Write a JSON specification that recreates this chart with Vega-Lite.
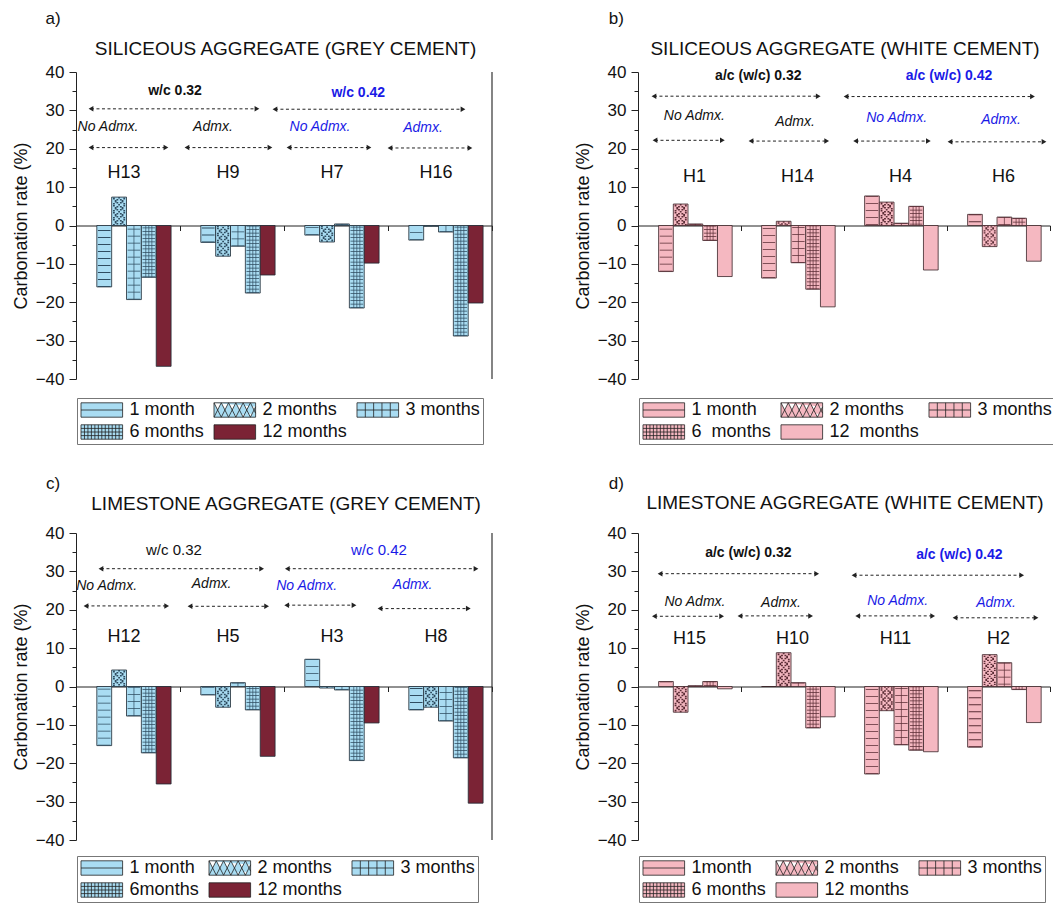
{
"$schema":"https://vega.github.io/schema/vega-lite/v6.json",
"padding":{"left":12,"top":10,"right":0,"bottom":0},
"background":"white",
"config":{"view":{"stroke":null},"font":"Liberation Sans","axisXQuantitative":{"disable":true}},
"datasets":{
"a":[
{"group":"H13","month":"1 month","value":-16.0},{"group":"H13","month":"2 months","value":7.4},{"group":"H13","month":"3 months","value":-19.3},{"group":"H13","month":"6 months","value":-13.5},{"group":"H13","month":"12 months","value":-36.7},
{"group":"H9","month":"1 month","value":-4.4},{"group":"H9","month":"2 months","value":-8.0},{"group":"H9","month":"3 months","value":-5.4},{"group":"H9","month":"6 months","value":-17.6},{"group":"H9","month":"12 months","value":-12.9},
{"group":"H7","month":"1 month","value":-2.5},{"group":"H7","month":"2 months","value":-4.3},{"group":"H7","month":"3 months","value":0.4},{"group":"H7","month":"6 months","value":-21.5},{"group":"H7","month":"12 months","value":-9.8},
{"group":"H16","month":"1 month","value":-3.8},{"group":"H16","month":"2 months","value":-0.2},{"group":"H16","month":"3 months","value":-1.7},{"group":"H16","month":"6 months","value":-28.8},{"group":"H16","month":"12 months","value":-20.2}],
"b":[
{"group":"H1","month":"1 month","value":-12.0},{"group":"H1","month":"2 months","value":5.6},{"group":"H1","month":"3 months","value":0.4},{"group":"H1","month":"6 months","value":-3.9},{"group":"H1","month":"12 months","value":-13.3},
{"group":"H14","month":"1 month","value":-13.7},{"group":"H14","month":"2 months","value":1.1},{"group":"H14","month":"3 months","value":-9.7},{"group":"H14","month":"6 months","value":-16.6},{"group":"H14","month":"12 months","value":-21.2},
{"group":"H4","month":"1 month","value":7.7},{"group":"H4","month":"2 months","value":6.1},{"group":"H4","month":"3 months","value":0.6},{"group":"H4","month":"6 months","value":5.0},{"group":"H4","month":"12 months","value":-11.6},
{"group":"H6","month":"1 month","value":2.9},{"group":"H6","month":"2 months","value":-5.5},{"group":"H6","month":"3 months","value":2.2},{"group":"H6","month":"6 months","value":1.9},{"group":"H6","month":"12 months","value":-9.3}],
"c":[
{"group":"H12","month":"1 month","value":-15.4},{"group":"H12","month":"2 months","value":4.3},{"group":"H12","month":"3 months","value":-7.7},{"group":"H12","month":"6 months","value":-17.3},{"group":"H12","month":"12 months","value":-25.4},
{"group":"H5","month":"1 month","value":-2.2},{"group":"H5","month":"2 months","value":-5.4},{"group":"H5","month":"3 months","value":1.0},{"group":"H5","month":"6 months","value":-6.1},{"group":"H5","month":"12 months","value":-18.2},
{"group":"H3","month":"1 month","value":7.1},{"group":"H3","month":"2 months","value":-0.4},{"group":"H3","month":"3 months","value":-0.9},{"group":"H3","month":"6 months","value":-19.3},{"group":"H3","month":"12 months","value":-9.5},
{"group":"H8","month":"1 month","value":-6.1},{"group":"H8","month":"2 months","value":-5.4},{"group":"H8","month":"3 months","value":-9.0},{"group":"H8","month":"6 months","value":-18.6},{"group":"H8","month":"12 months","value":-30.4}],
"d":[
{"group":"H15","month":"1 month","value":1.3},{"group":"H15","month":"2 months","value":-6.7},{"group":"H15","month":"3 months","value":0.2},{"group":"H15","month":"6 months","value":1.3},{"group":"H15","month":"12 months","value":-0.6},
{"group":"H10","month":"1 month","value":0.0},{"group":"H10","month":"2 months","value":8.8},{"group":"H10","month":"3 months","value":1.0},{"group":"H10","month":"6 months","value":-10.8},{"group":"H10","month":"12 months","value":-7.9},
{"group":"H11","month":"1 month","value":-22.8},{"group":"H11","month":"2 months","value":-6.3},{"group":"H11","month":"3 months","value":-15.2},{"group":"H11","month":"6 months","value":-16.6},{"group":"H11","month":"12 months","value":-17.0},
{"group":"H2","month":"1 month","value":-15.8},{"group":"H2","month":"2 months","value":8.3},{"group":"H2","month":"3 months","value":6.2},{"group":"H2","month":"6 months","value":-0.8},{"group":"H2","month":"12 months","value":-9.4}]
},
"columns":2,
"spacing":{"row":154,"column":146},
"bounds":"flush",
"resolve":{"scale":{"fill":"independent","xOffset":"independent","x":"independent","y":"independent"},"legend":{"fill":"independent"}},
"concat":[
{
"width":416,"height":307,
"resolve":{"scale":{"x":"independent","xOffset":"independent"},"axis":{"y":"independent","x":"independent"}},
"layer":[
{"data":{"name":"a"},
"resolve":{"scale":{"xOffset":"independent"}},
"encoding":{
"x":{"field":"group","type":"nominal","sort":null,"scale":{"paddingInner":0,"paddingOuter":0},"axis":{"orient":"bottom","offset":-153.5,"labels":false,"ticks":true,"tickSize":5,"tickBand":"extent","domainColor":"#222","tickColor":"#222","title":null,"grid":false}},
"y":{"field":"value","type":"quantitative","stack":null,"scale":{"domain":[-40,40],"nice":false},"axis":{"orient":"left","values":[-40,-30,-20,-10,0,10,20,30,40],"tickSize":7,"tickColor":"#222","domainColor":"#222","labelFontSize":17,"labelColor":"#111","labelPadding":5,"grid":false,"title":"Carbonation rate (%)","titleFontSize":18,"titleFontWeight":"normal","titleColor":"#111","titlePadding":5}}},
"layer":[
{"mark":{"type":"bar","stroke":"#1e2a33","strokeWidth":0.8},"encoding":{"xOffset":{"field":"month","type":"nominal","scale":{"domain":["1 month","2 months","3 months","6 months","12 months"],"paddingInner":0,"paddingOuter":1.24,"align":0.7}},"fill":{"field":"month","type":"nominal","scale":{"domain":["1 month","2 months","3 months","6 months","12 months"],"range":["#a9dcf2","#a9dcf2","#a9dcf2","#a9dcf2","#7b2335"]},"legend":{"title":null,"orient":"none","direction":"horizontal","legendX":1,"legendY":326,"columns":3,"strokeColor":"#777","fillColor":"#fff","padding":3,"labelFontSize":18,"labelColor":"#111","symbolSize":256,"symbolOffset":12.8,"symbolStrokeColor":"#222","symbolStrokeWidth":0.8,"labelOffset":18.8,"columnPadding":8,"rowPadding":4,"encode":{"symbols":{"update":{"shape":{"signal":"datum.value==='1 month'?'M-2.6,-0.9H2.6V0.9H-2.6Z M-2.6,0H2.6':datum.value==='2 months'?'M-2.6,-0.9H2.6V0.9H-2.6Z M-2.6,-0.9L-1.69,0.9L-0.78,-0.9L0.13,0.9L1.04,-0.9L1.95,0.9L2.6,-0.4 M-2.6,0.9L-1.69,-0.9L-0.78,0.9L0.13,-0.9L1.04,0.9L1.95,-0.9L2.6,0.4':datum.value==='3 months'?'M-2.6,-0.9H2.6V0.9H-2.6Z M-2.6,0H2.6 M-1.56,-0.9V0.9 M-0.52,-0.9V0.9 M0.52,-0.9V0.9 M1.56,-0.9V0.9':datum.value==='6 months'?'M-2.6,-0.9H2.6V0.9H-2.6Z M-2.6,-0.45H2.6 M-2.6,0H2.6 M-2.6,0.45H2.6 M-2.167,-0.9V0.9 M-1.733,-0.9V0.9 M-1.3,-0.9V0.9 M-0.867,-0.9V0.9 M-0.433,-0.9V0.9 M0,-0.9V0.9 M0.433,-0.9V0.9 M0.867,-0.9V0.9 M1.3,-0.9V0.9 M1.733,-0.9V0.9 M2.167,-0.9V0.9':'M-2.6,-0.9H2.6V0.9H-2.6Z'"}}}}}}}},
{"transform":[{"filter":{"field":"month","oneOf":["1 month","3 months"]}}],"mark":{"type":"rule","strokeWidth":12.6,"strokeDash":[0.8,6.2],"color":"#2f4c60"},"encoding":{"xOffset":{"field":"month","type":"nominal","scale":{"domain":["1 month","2 months","3 months","6 months","12 months"],"paddingInner":0,"paddingOuter":1.24,"align":0.7}},"y2":{"datum":0}}},
{"transform":[{"filter":{"field":"month","equal":"6 months"}}],"mark":{"type":"rule","strokeWidth":12.6,"strokeDash":[0.7,2.8],"color":"#2f4c60"},"encoding":{"xOffset":{"field":"month","type":"nominal","scale":{"domain":["1 month","2 months","3 months","6 months","12 months"],"paddingInner":0,"paddingOuter":1.24,"align":0.7}},"y2":{"datum":0}}},
{"transform":[{"filter":{"field":"month","oneOf":["3 months","6 months"]}}],"mark":{"type":"rule","strokeWidth":0.7,"color":"#2f4c60"},"encoding":{"xOffset":{"field":"month","type":"nominal","scale":{"domain":["1 month","2 months","3 months","6 months","12 months"],"paddingInner":0,"paddingOuter":1.24,"align":0.7}},"y2":{"datum":0}}},
{"transform":[{"filter":{"field":"month","equal":"6 months"}}],"mark":{"type":"rule","strokeWidth":0.7,"color":"#2f4c60"},"encoding":{"xOffset":{"field":"month","type":"nominal","scale":{"domain":["1 month","2 months","3 months","6 months","12 months"],"paddingInner":0,"paddingOuter":1.24,"align":0.598}},"y2":{"datum":0}}},
{"transform":[{"filter":{"field":"month","equal":"6 months"}}],"mark":{"type":"rule","strokeWidth":0.7,"color":"#2f4c60"},"encoding":{"xOffset":{"field":"month","type":"nominal","scale":{"domain":["1 month","2 months","3 months","6 months","12 months"],"paddingInner":0,"paddingOuter":1.24,"align":0.802}},"y2":{"datum":0}}},
{"transform":[{"filter":{"field":"month","equal":"2 months"}}],"mark":{"type":"rule","strokeWidth":1.8,"color":"#2f4c60","strokeDash":[1.4,5.6],"strokeDashOffset":0},"encoding":{"xOffset":{"field":"month","type":"nominal","scale":{"domain":["1 month","2 months","3 months","6 months","12 months"],"paddingInner":0,"paddingOuter":1.24,"align":0.7}},"y2":{"datum":0}}},
{"transform":[{"filter":{"field":"month","equal":"2 months"}}],"mark":{"type":"rule","strokeWidth":1.8,"color":"#2f4c60","strokeDash":[1.4,1.6,1.4,2.6],"strokeDashOffset":5},"encoding":{"xOffset":{"field":"month","type":"nominal","scale":{"domain":["1 month","2 months","3 months","6 months","12 months"],"paddingInner":0,"paddingOuter":1.24,"align":0.642}},"y2":{"datum":0}}},
{"transform":[{"filter":{"field":"month","equal":"2 months"}}],"mark":{"type":"rule","strokeWidth":1.8,"color":"#2f4c60","strokeDash":[1.4,1.6,1.4,2.6],"strokeDashOffset":5},"encoding":{"xOffset":{"field":"month","type":"nominal","scale":{"domain":["1 month","2 months","3 months","6 months","12 months"],"paddingInner":0,"paddingOuter":1.24,"align":0.758}},"y2":{"datum":0}}},
{"transform":[{"filter":{"field":"month","equal":"2 months"}}],"mark":{"type":"rule","strokeWidth":1.8,"color":"#2f4c60","strokeDash":[2.4,4.6],"strokeDashOffset":4},"encoding":{"xOffset":{"field":"month","type":"nominal","scale":{"domain":["1 month","2 months","3 months","6 months","12 months"],"paddingInner":0,"paddingOuter":1.24,"align":0.584}},"y2":{"datum":0}}},
{"transform":[{"filter":{"field":"month","equal":"2 months"}}],"mark":{"type":"rule","strokeWidth":1.8,"color":"#2f4c60","strokeDash":[2.4,4.6],"strokeDashOffset":4},"encoding":{"xOffset":{"field":"month","type":"nominal","scale":{"domain":["1 month","2 months","3 months","6 months","12 months"],"paddingInner":0,"paddingOuter":1.24,"align":0.816}},"y2":{"datum":0}}},
{"transform":[{"filter":{"field":"month","equal":"2 months"}}],"mark":{"type":"rule","strokeWidth":1.8,"color":"#2f4c60","strokeDash":[1.4,3.6,1.4,0.6],"strokeDashOffset":6},"encoding":{"xOffset":{"field":"month","type":"nominal","scale":{"domain":["1 month","2 months","3 months","6 months","12 months"],"paddingInner":0,"paddingOuter":1.24,"align":0.526}},"y2":{"datum":0}}},
{"transform":[{"filter":{"field":"month","equal":"2 months"}}],"mark":{"type":"rule","strokeWidth":1.8,"color":"#2f4c60","strokeDash":[1.4,3.6,1.4,0.6],"strokeDashOffset":6},"encoding":{"xOffset":{"field":"month","type":"nominal","scale":{"domain":["1 month","2 months","3 months","6 months","12 months"],"paddingInner":0,"paddingOuter":1.24,"align":0.874}},"y2":{"datum":0}}},
{"transform":[{"filter":{"field":"month","equal":"1 month"}}],"mark":{"type":"text","fontSize":18,"dx":-4,"color":"#111"},"encoding":{"text":{"field":"group"},"y":{"datum":13.7,"type":"quantitative"}}}
]},
{"data":{"values":[{}]},
"layer":[
{"mark":{"type":"text","text":"SILICEOUS AGGREGATE (GREY CEMENT)","fontSize":19,"color":"#111"},"encoding":{"x":{"datum":2.015,"type":"quantitative","scale":{"domain":[0,4],"nice":false,"zero":false},"axis":null},"y":{"datum":46,"type":"quantitative","axis":{"orient":"left","values":[-35,-25,-15,-5,5,15,25,35],"labels":false,"ticks":true,"tickSize":4,"tickColor":"#222","domain":false,"grid":false,"title":null}}}},
{"mark":{"type":"text","text":"a)","fontSize":17,"color":"#111"},"encoding":{"x":{"datum":-0.22,"type":"quantitative"},"y":{"datum":53.8,"type":"quantitative"}}},
{"mark":{"type":"rule","color":"#333","strokeWidth":1.2},"encoding":{"x":{"datum":4,"type":"quantitative"},"y":{"datum":-40,"type":"quantitative"},"y2":{"datum":40}}},
{"mark":{"type":"text","text":"w/c 0.32","fontSize":14,"fontWeight":"bold","color":"#111"},"encoding":{"x":{"datum":0.952,"type":"quantitative"},"y":{"datum":35.0,"type":"quantitative"}}},
{"mark":{"type":"text","text":"w/c 0.42","fontSize":14,"fontWeight":"bold","color":"#1a1ae6"},"encoding":{"x":{"datum":2.714,"type":"quantitative"},"y":{"datum":34.6,"type":"quantitative"}}},
{"mark":{"type":"text","text":"No Admx.","fontSize":14,"fontStyle":"italic","color":"#111"},"encoding":{"x":{"datum":0.308,"type":"quantitative"},"y":{"datum":25.7,"type":"quantitative"}}},
{"mark":{"type":"text","text":"Admx.","fontSize":14,"fontStyle":"italic","color":"#111"},"encoding":{"x":{"datum":1.317,"type":"quantitative"},"y":{"datum":25.7,"type":"quantitative"}}},
{"mark":{"type":"text","text":"No Admx.","fontSize":14,"fontStyle":"italic","color":"#1a1ae6"},"encoding":{"x":{"datum":2.346,"type":"quantitative"},"y":{"datum":25.6,"type":"quantitative"}}},
{"mark":{"type":"text","text":"Admx.","fontSize":14,"fontStyle":"italic","color":"#1a1ae6"},"encoding":{"x":{"datum":3.337,"type":"quantitative"},"y":{"datum":25.5,"type":"quantitative"}}},
{"mark":{"type":"rule","color":"#222","strokeWidth":1,"strokeDash":[3,2.5]},"encoding":{"x":{"datum":0.144,"type":"quantitative"},"x2":{"datum":1.74},"y":{"datum":30.4,"type":"quantitative"}}},
{"mark":{"type":"point","shape":"triangle-left","filled":true,"size":30,"color":"#222","opacity":1},"encoding":{"x":{"datum":0.144,"type":"quantitative"},"y":{"datum":30.4,"type":"quantitative"}}},
{"mark":{"type":"point","shape":"triangle-right","filled":true,"size":30,"color":"#222","opacity":1},"encoding":{"x":{"datum":1.74,"type":"quantitative"},"y":{"datum":30.4,"type":"quantitative"}}},
{"mark":{"type":"rule","color":"#222","strokeWidth":1,"strokeDash":[3,2.5]},"encoding":{"x":{"datum":1.913,"type":"quantitative"},"x2":{"datum":3.721},"y":{"datum":30.3,"type":"quantitative"}}},
{"mark":{"type":"point","shape":"triangle-left","filled":true,"size":30,"color":"#222","opacity":1},"encoding":{"x":{"datum":1.913,"type":"quantitative"},"y":{"datum":30.3,"type":"quantitative"}}},
{"mark":{"type":"point","shape":"triangle-right","filled":true,"size":30,"color":"#222","opacity":1},"encoding":{"x":{"datum":3.721,"type":"quantitative"},"y":{"datum":30.3,"type":"quantitative"}}},
{"mark":{"type":"rule","color":"#222","strokeWidth":1,"strokeDash":[3,2.5]},"encoding":{"x":{"datum":0.144,"type":"quantitative"},"x2":{"datum":0.865},"y":{"datum":20.3,"type":"quantitative"}}},
{"mark":{"type":"point","shape":"triangle-left","filled":true,"size":30,"color":"#222","opacity":1},"encoding":{"x":{"datum":0.144,"type":"quantitative"},"y":{"datum":20.3,"type":"quantitative"}}},
{"mark":{"type":"point","shape":"triangle-right","filled":true,"size":30,"color":"#222","opacity":1},"encoding":{"x":{"datum":0.865,"type":"quantitative"},"y":{"datum":20.3,"type":"quantitative"}}},
{"mark":{"type":"rule","color":"#222","strokeWidth":1,"strokeDash":[3,2.5]},"encoding":{"x":{"datum":1.067,"type":"quantitative"},"x2":{"datum":1.865},"y":{"datum":20.3,"type":"quantitative"}}},
{"mark":{"type":"point","shape":"triangle-left","filled":true,"size":30,"color":"#222","opacity":1},"encoding":{"x":{"datum":1.067,"type":"quantitative"},"y":{"datum":20.3,"type":"quantitative"}}},
{"mark":{"type":"point","shape":"triangle-right","filled":true,"size":30,"color":"#222","opacity":1},"encoding":{"x":{"datum":1.865,"type":"quantitative"},"y":{"datum":20.3,"type":"quantitative"}}},
{"mark":{"type":"rule","color":"#222","strokeWidth":1,"strokeDash":[3,2.5]},"encoding":{"x":{"datum":2.048,"type":"quantitative"},"x2":{"datum":2.817},"y":{"datum":20.3,"type":"quantitative"}}},
{"mark":{"type":"point","shape":"triangle-left","filled":true,"size":30,"color":"#222","opacity":1},"encoding":{"x":{"datum":2.048,"type":"quantitative"},"y":{"datum":20.3,"type":"quantitative"}}},
{"mark":{"type":"point","shape":"triangle-right","filled":true,"size":30,"color":"#222","opacity":1},"encoding":{"x":{"datum":2.817,"type":"quantitative"},"y":{"datum":20.3,"type":"quantitative"}}},
{"mark":{"type":"rule","color":"#222","strokeWidth":1,"strokeDash":[3,2.5]},"encoding":{"x":{"datum":3.019,"type":"quantitative"},"x2":{"datum":3.788},"y":{"datum":20.2,"type":"quantitative"}}},
{"mark":{"type":"point","shape":"triangle-left","filled":true,"size":30,"color":"#222","opacity":1},"encoding":{"x":{"datum":3.019,"type":"quantitative"},"y":{"datum":20.2,"type":"quantitative"}}},
{"mark":{"type":"point","shape":"triangle-right","filled":true,"size":30,"color":"#222","opacity":1},"encoding":{"x":{"datum":3.788,"type":"quantitative"},"y":{"datum":20.2,"type":"quantitative"}}}
]}
]
},
{
"width":412,"height":307,
"resolve":{"scale":{"x":"independent","xOffset":"independent"},"axis":{"y":"independent","x":"independent"}},
"layer":[
{"data":{"name":"b"},
"resolve":{"scale":{"xOffset":"independent"}},
"encoding":{
"x":{"field":"group","type":"nominal","sort":null,"scale":{"paddingInner":0,"paddingOuter":0},"axis":{"orient":"bottom","offset":-153.5,"labels":false,"ticks":true,"tickSize":5,"tickBand":"extent","domainColor":"#222","tickColor":"#222","title":null,"grid":false}},
"y":{"field":"value","type":"quantitative","stack":null,"scale":{"domain":[-40,40],"nice":false},"axis":{"orient":"left","values":[-40,-30,-20,-10,0,10,20,30,40],"tickSize":7,"tickColor":"#222","domainColor":"#222","labelFontSize":17,"labelColor":"#111","labelPadding":5,"grid":false,"title":"Carbonation rate (%)","titleFontSize":18,"titleFontWeight":"normal","titleColor":"#111","titlePadding":5}}},
"layer":[
{"mark":{"type":"bar","stroke":"#3a2428","strokeWidth":0.8},"encoding":{"xOffset":{"field":"month","type":"nominal","scale":{"domain":["1 month","2 months","3 months","6 months","12 months"],"paddingInner":0,"paddingOuter":1.24,"align":0.7}},"fill":{"field":"month","type":"nominal","scale":{"domain":["1 month","2 months","3 months","6 months","12 months"],"range":["#f5b8c1","#f5b8c1","#f5b8c1","#f5b8c1","#f5b8c1"]},"legend":{"title":null,"orient":"none","direction":"horizontal","legendX":1,"legendY":326,"columns":3,"strokeColor":"#777","fillColor":"#fff","padding":3,"labelFontSize":18,"labelColor":"#111","symbolSize":256,"symbolOffset":12.8,"symbolStrokeColor":"#222","symbolStrokeWidth":0.8,"labelOffset":18.8,"columnPadding":8,"rowPadding":4,"labelExpr":"datum.label==='6 months'?'6\u00a0 months':datum.label==='12 months'?'12\u00a0 months':datum.label","encode":{"symbols":{"update":{"shape":{"signal":"datum.value==='1 month'?'M-2.6,-0.9H2.6V0.9H-2.6Z M-2.6,0H2.6':datum.value==='2 months'?'M-2.6,-0.9H2.6V0.9H-2.6Z M-2.6,-0.9L-1.69,0.9L-0.78,-0.9L0.13,0.9L1.04,-0.9L1.95,0.9L2.6,-0.4 M-2.6,0.9L-1.69,-0.9L-0.78,0.9L0.13,-0.9L1.04,0.9L1.95,-0.9L2.6,0.4':datum.value==='3 months'?'M-2.6,-0.9H2.6V0.9H-2.6Z M-2.6,0H2.6 M-1.56,-0.9V0.9 M-0.52,-0.9V0.9 M0.52,-0.9V0.9 M1.56,-0.9V0.9':datum.value==='6 months'?'M-2.6,-0.9H2.6V0.9H-2.6Z M-2.6,-0.45H2.6 M-2.6,0H2.6 M-2.6,0.45H2.6 M-2.167,-0.9V0.9 M-1.733,-0.9V0.9 M-1.3,-0.9V0.9 M-0.867,-0.9V0.9 M-0.433,-0.9V0.9 M0,-0.9V0.9 M0.433,-0.9V0.9 M0.867,-0.9V0.9 M1.3,-0.9V0.9 M1.733,-0.9V0.9 M2.167,-0.9V0.9':'M-2.6,-0.9H2.6V0.9H-2.6Z'"}}}}}}}},
{"transform":[{"filter":{"field":"month","oneOf":["1 month","3 months"]}}],"mark":{"type":"rule","strokeWidth":12.4,"strokeDash":[0.8,6.2],"color":"#5a2c35"},"encoding":{"xOffset":{"field":"month","type":"nominal","scale":{"domain":["1 month","2 months","3 months","6 months","12 months"],"paddingInner":0,"paddingOuter":1.24,"align":0.7}},"y2":{"datum":0}}},
{"transform":[{"filter":{"field":"month","equal":"6 months"}}],"mark":{"type":"rule","strokeWidth":12.4,"strokeDash":[0.7,2.8],"color":"#5a2c35"},"encoding":{"xOffset":{"field":"month","type":"nominal","scale":{"domain":["1 month","2 months","3 months","6 months","12 months"],"paddingInner":0,"paddingOuter":1.24,"align":0.7}},"y2":{"datum":0}}},
{"transform":[{"filter":{"field":"month","oneOf":["3 months","6 months"]}}],"mark":{"type":"rule","strokeWidth":0.7,"color":"#5a2c35"},"encoding":{"xOffset":{"field":"month","type":"nominal","scale":{"domain":["1 month","2 months","3 months","6 months","12 months"],"paddingInner":0,"paddingOuter":1.24,"align":0.7}},"y2":{"datum":0}}},
{"transform":[{"filter":{"field":"month","equal":"6 months"}}],"mark":{"type":"rule","strokeWidth":0.7,"color":"#5a2c35"},"encoding":{"xOffset":{"field":"month","type":"nominal","scale":{"domain":["1 month","2 months","3 months","6 months","12 months"],"paddingInner":0,"paddingOuter":1.24,"align":0.598}},"y2":{"datum":0}}},
{"transform":[{"filter":{"field":"month","equal":"6 months"}}],"mark":{"type":"rule","strokeWidth":0.7,"color":"#5a2c35"},"encoding":{"xOffset":{"field":"month","type":"nominal","scale":{"domain":["1 month","2 months","3 months","6 months","12 months"],"paddingInner":0,"paddingOuter":1.24,"align":0.802}},"y2":{"datum":0}}},
{"transform":[{"filter":{"field":"month","equal":"2 months"}}],"mark":{"type":"rule","strokeWidth":1.8,"color":"#5a2c35","strokeDash":[1.4,5.6],"strokeDashOffset":0},"encoding":{"xOffset":{"field":"month","type":"nominal","scale":{"domain":["1 month","2 months","3 months","6 months","12 months"],"paddingInner":0,"paddingOuter":1.24,"align":0.7}},"y2":{"datum":0}}},
{"transform":[{"filter":{"field":"month","equal":"2 months"}}],"mark":{"type":"rule","strokeWidth":1.8,"color":"#5a2c35","strokeDash":[1.4,1.6,1.4,2.6],"strokeDashOffset":5},"encoding":{"xOffset":{"field":"month","type":"nominal","scale":{"domain":["1 month","2 months","3 months","6 months","12 months"],"paddingInner":0,"paddingOuter":1.24,"align":0.642}},"y2":{"datum":0}}},
{"transform":[{"filter":{"field":"month","equal":"2 months"}}],"mark":{"type":"rule","strokeWidth":1.8,"color":"#5a2c35","strokeDash":[1.4,1.6,1.4,2.6],"strokeDashOffset":5},"encoding":{"xOffset":{"field":"month","type":"nominal","scale":{"domain":["1 month","2 months","3 months","6 months","12 months"],"paddingInner":0,"paddingOuter":1.24,"align":0.758}},"y2":{"datum":0}}},
{"transform":[{"filter":{"field":"month","equal":"2 months"}}],"mark":{"type":"rule","strokeWidth":1.8,"color":"#5a2c35","strokeDash":[2.4,4.6],"strokeDashOffset":4},"encoding":{"xOffset":{"field":"month","type":"nominal","scale":{"domain":["1 month","2 months","3 months","6 months","12 months"],"paddingInner":0,"paddingOuter":1.24,"align":0.584}},"y2":{"datum":0}}},
{"transform":[{"filter":{"field":"month","equal":"2 months"}}],"mark":{"type":"rule","strokeWidth":1.8,"color":"#5a2c35","strokeDash":[2.4,4.6],"strokeDashOffset":4},"encoding":{"xOffset":{"field":"month","type":"nominal","scale":{"domain":["1 month","2 months","3 months","6 months","12 months"],"paddingInner":0,"paddingOuter":1.24,"align":0.816}},"y2":{"datum":0}}},
{"transform":[{"filter":{"field":"month","equal":"2 months"}}],"mark":{"type":"rule","strokeWidth":1.8,"color":"#5a2c35","strokeDash":[1.4,3.6,1.4,0.6],"strokeDashOffset":6},"encoding":{"xOffset":{"field":"month","type":"nominal","scale":{"domain":["1 month","2 months","3 months","6 months","12 months"],"paddingInner":0,"paddingOuter":1.24,"align":0.526}},"y2":{"datum":0}}},
{"transform":[{"filter":{"field":"month","equal":"2 months"}}],"mark":{"type":"rule","strokeWidth":1.8,"color":"#5a2c35","strokeDash":[1.4,3.6,1.4,0.6],"strokeDashOffset":6},"encoding":{"xOffset":{"field":"month","type":"nominal","scale":{"domain":["1 month","2 months","3 months","6 months","12 months"],"paddingInner":0,"paddingOuter":1.24,"align":0.874}},"y2":{"datum":0}}},
{"transform":[{"filter":{"field":"month","equal":"1 month"}}],"mark":{"type":"text","fontSize":18,"dx":5,"color":"#111"},"encoding":{"text":{"field":"group"},"y":{"datum":12.7,"type":"quantitative"}}}
]},
{"data":{"values":[{}]},
"layer":[
{"mark":{"type":"text","text":"SILICEOUS AGGREGATE (WHITE CEMENT)","fontSize":19,"color":"#111"},"encoding":{"x":{"datum":2.01,"type":"quantitative","scale":{"domain":[0,4],"nice":false,"zero":false},"axis":null},"y":{"datum":46.1,"type":"quantitative","axis":{"orient":"left","values":[-35,-25,-15,-5,5,15,25,35],"labels":false,"ticks":true,"tickSize":4,"tickColor":"#222","domain":false,"grid":false,"title":null}}}},
{"mark":{"type":"text","text":"b)","fontSize":17,"color":"#111"},"encoding":{"x":{"datum":-0.21,"type":"quantitative"},"y":{"datum":53.7,"type":"quantitative"}}},
{"mark":{"type":"text","text":"a/c (w/c) 0.32","fontSize":14,"fontWeight":"bold","color":"#111"},"encoding":{"x":{"datum":1.168,"type":"quantitative"},"y":{"datum":39.0,"type":"quantitative"}}},
{"mark":{"type":"text","text":"a/c (w/c) 0.42","fontSize":14,"fontWeight":"bold","color":"#1a1ae6"},"encoding":{"x":{"datum":3.02,"type":"quantitative"},"y":{"datum":39.0,"type":"quantitative"}}},
{"mark":{"type":"text","text":"No Admx.","fontSize":14,"fontStyle":"italic","color":"#111"},"encoding":{"x":{"datum":0.547,"type":"quantitative"},"y":{"datum":28.5,"type":"quantitative"}}},
{"mark":{"type":"text","text":"Admx.","fontSize":14,"fontStyle":"italic","color":"#111"},"encoding":{"x":{"datum":1.524,"type":"quantitative"},"y":{"datum":27.0,"type":"quantitative"}}},
{"mark":{"type":"text","text":"No Admx.","fontSize":14,"fontStyle":"italic","color":"#1a1ae6"},"encoding":{"x":{"datum":2.511,"type":"quantitative"},"y":{"datum":27.9,"type":"quantitative"}}},
{"mark":{"type":"text","text":"Admx.","fontSize":14,"fontStyle":"italic","color":"#1a1ae6"},"encoding":{"x":{"datum":3.524,"type":"quantitative"},"y":{"datum":27.4,"type":"quantitative"}}},
{"mark":{"type":"rule","color":"#222","strokeWidth":1,"strokeDash":[3,2.5]},"encoding":{"x":{"datum":0.155,"type":"quantitative"},"x2":{"datum":1.75},"y":{"datum":33.7,"type":"quantitative"}}},
{"mark":{"type":"point","shape":"triangle-left","filled":true,"size":30,"color":"#222","opacity":1},"encoding":{"x":{"datum":0.155,"type":"quantitative"},"y":{"datum":33.7,"type":"quantitative"}}},
{"mark":{"type":"point","shape":"triangle-right","filled":true,"size":30,"color":"#222","opacity":1},"encoding":{"x":{"datum":1.75,"type":"quantitative"},"y":{"datum":33.7,"type":"quantitative"}}},
{"mark":{"type":"rule","color":"#222","strokeWidth":1,"strokeDash":[3,2.5]},"encoding":{"x":{"datum":2.02,"type":"quantitative"},"x2":{"datum":3.83},"y":{"datum":33.6,"type":"quantitative"}}},
{"mark":{"type":"point","shape":"triangle-left","filled":true,"size":30,"color":"#222","opacity":1},"encoding":{"x":{"datum":2.02,"type":"quantitative"},"y":{"datum":33.6,"type":"quantitative"}}},
{"mark":{"type":"point","shape":"triangle-right","filled":true,"size":30,"color":"#222","opacity":1},"encoding":{"x":{"datum":3.83,"type":"quantitative"},"y":{"datum":33.6,"type":"quantitative"}}},
{"mark":{"type":"rule","color":"#222","strokeWidth":1,"strokeDash":[3,2.5]},"encoding":{"x":{"datum":0.165,"type":"quantitative"},"x2":{"datum":0.819},"y":{"datum":22.2,"type":"quantitative"}}},
{"mark":{"type":"point","shape":"triangle-left","filled":true,"size":30,"color":"#222","opacity":1},"encoding":{"x":{"datum":0.165,"type":"quantitative"},"y":{"datum":22.2,"type":"quantitative"}}},
{"mark":{"type":"point","shape":"triangle-right","filled":true,"size":30,"color":"#222","opacity":1},"encoding":{"x":{"datum":0.819,"type":"quantitative"},"y":{"datum":22.2,"type":"quantitative"}}},
{"mark":{"type":"rule","color":"#222","strokeWidth":1,"strokeDash":[3,2.5]},"encoding":{"x":{"datum":1.097,"type":"quantitative"},"x2":{"datum":1.832},"y":{"datum":22.0,"type":"quantitative"}}},
{"mark":{"type":"point","shape":"triangle-left","filled":true,"size":30,"color":"#222","opacity":1},"encoding":{"x":{"datum":1.097,"type":"quantitative"},"y":{"datum":22.0,"type":"quantitative"}}},
{"mark":{"type":"point","shape":"triangle-right","filled":true,"size":30,"color":"#222","opacity":1},"encoding":{"x":{"datum":1.832,"type":"quantitative"},"y":{"datum":22.0,"type":"quantitative"}}},
{"mark":{"type":"rule","color":"#222","strokeWidth":1,"strokeDash":[3,2.5]},"encoding":{"x":{"datum":2.113,"type":"quantitative"},"x2":{"datum":2.819},"y":{"datum":22.0,"type":"quantitative"}}},
{"mark":{"type":"point","shape":"triangle-left","filled":true,"size":30,"color":"#222","opacity":1},"encoding":{"x":{"datum":2.113,"type":"quantitative"},"y":{"datum":22.0,"type":"quantitative"}}},
{"mark":{"type":"point","shape":"triangle-right","filled":true,"size":30,"color":"#222","opacity":1},"encoding":{"x":{"datum":2.819,"type":"quantitative"},"y":{"datum":22.0,"type":"quantitative"}}},
{"mark":{"type":"rule","color":"#222","strokeWidth":1,"strokeDash":[3,2.5]},"encoding":{"x":{"datum":3.029,"type":"quantitative"},"x2":{"datum":3.942},"y":{"datum":21.8,"type":"quantitative"}}},
{"mark":{"type":"point","shape":"triangle-left","filled":true,"size":30,"color":"#222","opacity":1},"encoding":{"x":{"datum":3.029,"type":"quantitative"},"y":{"datum":21.8,"type":"quantitative"}}},
{"mark":{"type":"point","shape":"triangle-right","filled":true,"size":30,"color":"#222","opacity":1},"encoding":{"x":{"datum":3.942,"type":"quantitative"},"y":{"datum":21.8,"type":"quantitative"}}}
]}
]
},
{
"width":416,"height":307,
"resolve":{"scale":{"x":"independent","xOffset":"independent"},"axis":{"y":"independent","x":"independent"}},
"layer":[
{"data":{"name":"c"},
"resolve":{"scale":{"xOffset":"independent"}},
"encoding":{
"x":{"field":"group","type":"nominal","sort":null,"scale":{"paddingInner":0,"paddingOuter":0},"axis":{"orient":"bottom","offset":-153.5,"labels":false,"ticks":true,"tickSize":5,"tickBand":"extent","domainColor":"#222","tickColor":"#222","title":null,"grid":false}},
"y":{"field":"value","type":"quantitative","stack":null,"scale":{"domain":[-40,40],"nice":false},"axis":{"orient":"left","values":[-40,-30,-20,-10,0,10,20,30,40],"tickSize":7,"tickColor":"#222","domainColor":"#222","labelFontSize":17,"labelColor":"#111","labelPadding":5,"grid":false,"title":"Carbonation rate (%)","titleFontSize":18,"titleFontWeight":"normal","titleColor":"#111","titlePadding":5}}},
"layer":[
{"mark":{"type":"bar","stroke":"#1e2a33","strokeWidth":0.8},"encoding":{"xOffset":{"field":"month","type":"nominal","scale":{"domain":["1 month","2 months","3 months","6 months","12 months"],"paddingInner":0,"paddingOuter":1.24,"align":0.7}},"fill":{"field":"month","type":"nominal","scale":{"domain":["1 month","2 months","3 months","6 months","12 months"],"range":["#a9dcf2","#a9dcf2","#a9dcf2","#a9dcf2","#7b2335"]},"legend":{"title":null,"orient":"none","direction":"horizontal","legendX":1,"legendY":323,"columns":3,"strokeColor":"#777","fillColor":"#fff","padding":3,"labelFontSize":18,"labelColor":"#111","symbolSize":256,"symbolOffset":12.8,"symbolStrokeColor":"#222","symbolStrokeWidth":0.8,"labelOffset":18.8,"columnPadding":8,"rowPadding":4,"labelExpr":"datum.label==='6 months'?'6months':datum.label","encode":{"symbols":{"update":{"shape":{"signal":"datum.value==='1 month'?'M-2.6,-0.9H2.6V0.9H-2.6Z M-2.6,0H2.6':datum.value==='2 months'?'M-2.6,-0.9H2.6V0.9H-2.6Z M-2.6,-0.9L-1.69,0.9L-0.78,-0.9L0.13,0.9L1.04,-0.9L1.95,0.9L2.6,-0.4 M-2.6,0.9L-1.69,-0.9L-0.78,0.9L0.13,-0.9L1.04,0.9L1.95,-0.9L2.6,0.4':datum.value==='3 months'?'M-2.6,-0.9H2.6V0.9H-2.6Z M-2.6,0H2.6 M-1.56,-0.9V0.9 M-0.52,-0.9V0.9 M0.52,-0.9V0.9 M1.56,-0.9V0.9':datum.value==='6 months'?'M-2.6,-0.9H2.6V0.9H-2.6Z M-2.6,-0.45H2.6 M-2.6,0H2.6 M-2.6,0.45H2.6 M-2.167,-0.9V0.9 M-1.733,-0.9V0.9 M-1.3,-0.9V0.9 M-0.867,-0.9V0.9 M-0.433,-0.9V0.9 M0,-0.9V0.9 M0.433,-0.9V0.9 M0.867,-0.9V0.9 M1.3,-0.9V0.9 M1.733,-0.9V0.9 M2.167,-0.9V0.9':'M-2.6,-0.9H2.6V0.9H-2.6Z'"}}}}}}}},
{"transform":[{"filter":{"field":"month","oneOf":["1 month","3 months"]}}],"mark":{"type":"rule","strokeWidth":12.6,"strokeDash":[0.8,6.2],"color":"#2f4c60"},"encoding":{"xOffset":{"field":"month","type":"nominal","scale":{"domain":["1 month","2 months","3 months","6 months","12 months"],"paddingInner":0,"paddingOuter":1.24,"align":0.7}},"y2":{"datum":0}}},
{"transform":[{"filter":{"field":"month","equal":"6 months"}}],"mark":{"type":"rule","strokeWidth":12.6,"strokeDash":[0.7,2.8],"color":"#2f4c60"},"encoding":{"xOffset":{"field":"month","type":"nominal","scale":{"domain":["1 month","2 months","3 months","6 months","12 months"],"paddingInner":0,"paddingOuter":1.24,"align":0.7}},"y2":{"datum":0}}},
{"transform":[{"filter":{"field":"month","oneOf":["3 months","6 months"]}}],"mark":{"type":"rule","strokeWidth":0.7,"color":"#2f4c60"},"encoding":{"xOffset":{"field":"month","type":"nominal","scale":{"domain":["1 month","2 months","3 months","6 months","12 months"],"paddingInner":0,"paddingOuter":1.24,"align":0.7}},"y2":{"datum":0}}},
{"transform":[{"filter":{"field":"month","equal":"6 months"}}],"mark":{"type":"rule","strokeWidth":0.7,"color":"#2f4c60"},"encoding":{"xOffset":{"field":"month","type":"nominal","scale":{"domain":["1 month","2 months","3 months","6 months","12 months"],"paddingInner":0,"paddingOuter":1.24,"align":0.598}},"y2":{"datum":0}}},
{"transform":[{"filter":{"field":"month","equal":"6 months"}}],"mark":{"type":"rule","strokeWidth":0.7,"color":"#2f4c60"},"encoding":{"xOffset":{"field":"month","type":"nominal","scale":{"domain":["1 month","2 months","3 months","6 months","12 months"],"paddingInner":0,"paddingOuter":1.24,"align":0.802}},"y2":{"datum":0}}},
{"transform":[{"filter":{"field":"month","equal":"2 months"}}],"mark":{"type":"rule","strokeWidth":1.8,"color":"#2f4c60","strokeDash":[1.4,5.6],"strokeDashOffset":0},"encoding":{"xOffset":{"field":"month","type":"nominal","scale":{"domain":["1 month","2 months","3 months","6 months","12 months"],"paddingInner":0,"paddingOuter":1.24,"align":0.7}},"y2":{"datum":0}}},
{"transform":[{"filter":{"field":"month","equal":"2 months"}}],"mark":{"type":"rule","strokeWidth":1.8,"color":"#2f4c60","strokeDash":[1.4,1.6,1.4,2.6],"strokeDashOffset":5},"encoding":{"xOffset":{"field":"month","type":"nominal","scale":{"domain":["1 month","2 months","3 months","6 months","12 months"],"paddingInner":0,"paddingOuter":1.24,"align":0.642}},"y2":{"datum":0}}},
{"transform":[{"filter":{"field":"month","equal":"2 months"}}],"mark":{"type":"rule","strokeWidth":1.8,"color":"#2f4c60","strokeDash":[1.4,1.6,1.4,2.6],"strokeDashOffset":5},"encoding":{"xOffset":{"field":"month","type":"nominal","scale":{"domain":["1 month","2 months","3 months","6 months","12 months"],"paddingInner":0,"paddingOuter":1.24,"align":0.758}},"y2":{"datum":0}}},
{"transform":[{"filter":{"field":"month","equal":"2 months"}}],"mark":{"type":"rule","strokeWidth":1.8,"color":"#2f4c60","strokeDash":[2.4,4.6],"strokeDashOffset":4},"encoding":{"xOffset":{"field":"month","type":"nominal","scale":{"domain":["1 month","2 months","3 months","6 months","12 months"],"paddingInner":0,"paddingOuter":1.24,"align":0.584}},"y2":{"datum":0}}},
{"transform":[{"filter":{"field":"month","equal":"2 months"}}],"mark":{"type":"rule","strokeWidth":1.8,"color":"#2f4c60","strokeDash":[2.4,4.6],"strokeDashOffset":4},"encoding":{"xOffset":{"field":"month","type":"nominal","scale":{"domain":["1 month","2 months","3 months","6 months","12 months"],"paddingInner":0,"paddingOuter":1.24,"align":0.816}},"y2":{"datum":0}}},
{"transform":[{"filter":{"field":"month","equal":"2 months"}}],"mark":{"type":"rule","strokeWidth":1.8,"color":"#2f4c60","strokeDash":[1.4,3.6,1.4,0.6],"strokeDashOffset":6},"encoding":{"xOffset":{"field":"month","type":"nominal","scale":{"domain":["1 month","2 months","3 months","6 months","12 months"],"paddingInner":0,"paddingOuter":1.24,"align":0.526}},"y2":{"datum":0}}},
{"transform":[{"filter":{"field":"month","equal":"2 months"}}],"mark":{"type":"rule","strokeWidth":1.8,"color":"#2f4c60","strokeDash":[1.4,3.6,1.4,0.6],"strokeDashOffset":6},"encoding":{"xOffset":{"field":"month","type":"nominal","scale":{"domain":["1 month","2 months","3 months","6 months","12 months"],"paddingInner":0,"paddingOuter":1.24,"align":0.874}},"y2":{"datum":0}}},
{"transform":[{"filter":{"field":"month","equal":"1 month"}}],"mark":{"type":"text","fontSize":18,"dx":-4,"color":"#111"},"encoding":{"text":{"field":"group"},"y":{"datum":13.0,"type":"quantitative"}}}
]},
{"data":{"values":[{}]},
"layer":[
{"mark":{"type":"text","text":"LIMESTONE AGGREGATE (GREY CEMENT)","fontSize":19,"color":"#111"},"encoding":{"x":{"datum":2.02,"type":"quantitative","scale":{"domain":[0,4],"nice":false,"zero":false},"axis":null},"y":{"datum":47.6,"type":"quantitative","axis":{"orient":"left","values":[-35,-25,-15,-5,5,15,25,35],"labels":false,"ticks":true,"tickSize":4,"tickColor":"#222","domain":false,"grid":false,"title":null}}}},
{"mark":{"type":"text","text":"c)","fontSize":17,"color":"#111"},"encoding":{"x":{"datum":-0.22,"type":"quantitative"},"y":{"datum":52.7,"type":"quantitative"}}},
{"mark":{"type":"rule","color":"#333","strokeWidth":1.2},"encoding":{"x":{"datum":4,"type":"quantitative"},"y":{"datum":-40,"type":"quantitative"},"y2":{"datum":40}}},
{"mark":{"type":"text","text":"w/c 0.32","fontSize":15,"color":"#111"},"encoding":{"x":{"datum":0.942,"type":"quantitative"},"y":{"datum":35.5,"type":"quantitative"}}},
{"mark":{"type":"text","text":"w/c 0.42","fontSize":15,"color":"#1a1ae6"},"encoding":{"x":{"datum":2.913,"type":"quantitative"},"y":{"datum":35.5,"type":"quantitative"}}},
{"mark":{"type":"text","text":"No Admx.","fontSize":14,"fontStyle":"italic","color":"#111"},"encoding":{"x":{"datum":0.295,"type":"quantitative"},"y":{"datum":26.3,"type":"quantitative"}}},
{"mark":{"type":"text","text":"Admx.","fontSize":14,"fontStyle":"italic","color":"#111"},"encoding":{"x":{"datum":1.304,"type":"quantitative"},"y":{"datum":26.6,"type":"quantitative"}}},
{"mark":{"type":"text","text":"No Admx.","fontSize":14,"fontStyle":"italic","color":"#1a1ae6"},"encoding":{"x":{"datum":2.218,"type":"quantitative"},"y":{"datum":26.3,"type":"quantitative"}}},
{"mark":{"type":"text","text":"Admx.","fontSize":14,"fontStyle":"italic","color":"#1a1ae6"},"encoding":{"x":{"datum":3.237,"type":"quantitative"},"y":{"datum":26.5,"type":"quantitative"}}},
{"mark":{"type":"rule","color":"#222","strokeWidth":1,"strokeDash":[3,2.5]},"encoding":{"x":{"datum":0.24,"type":"quantitative"},"x2":{"datum":1.785},"y":{"datum":30.7,"type":"quantitative"}}},
{"mark":{"type":"point","shape":"triangle-left","filled":true,"size":30,"color":"#222","opacity":1},"encoding":{"x":{"datum":0.24,"type":"quantitative"},"y":{"datum":30.7,"type":"quantitative"}}},
{"mark":{"type":"point","shape":"triangle-right","filled":true,"size":30,"color":"#222","opacity":1},"encoding":{"x":{"datum":1.785,"type":"quantitative"},"y":{"datum":30.7,"type":"quantitative"}}},
{"mark":{"type":"rule","color":"#222","strokeWidth":1,"strokeDash":[3,2.5]},"encoding":{"x":{"datum":2.032,"type":"quantitative"},"x2":{"datum":3.846},"y":{"datum":30.7,"type":"quantitative"}}},
{"mark":{"type":"point","shape":"triangle-left","filled":true,"size":30,"color":"#222","opacity":1},"encoding":{"x":{"datum":2.032,"type":"quantitative"},"y":{"datum":30.7,"type":"quantitative"}}},
{"mark":{"type":"point","shape":"triangle-right","filled":true,"size":30,"color":"#222","opacity":1},"encoding":{"x":{"datum":3.846,"type":"quantitative"},"y":{"datum":30.7,"type":"quantitative"}}},
{"mark":{"type":"rule","color":"#222","strokeWidth":1,"strokeDash":[3,2.5]},"encoding":{"x":{"datum":0.096,"type":"quantitative"},"x2":{"datum":0.872},"y":{"datum":21.0,"type":"quantitative"}}},
{"mark":{"type":"point","shape":"triangle-left","filled":true,"size":30,"color":"#222","opacity":1},"encoding":{"x":{"datum":0.096,"type":"quantitative"},"y":{"datum":21.0,"type":"quantitative"}}},
{"mark":{"type":"point","shape":"triangle-right","filled":true,"size":30,"color":"#222","opacity":1},"encoding":{"x":{"datum":0.872,"type":"quantitative"},"y":{"datum":21.0,"type":"quantitative"}}},
{"mark":{"type":"rule","color":"#222","strokeWidth":1,"strokeDash":[3,2.5]},"encoding":{"x":{"datum":1.096,"type":"quantitative"},"x2":{"datum":1.833},"y":{"datum":20.9,"type":"quantitative"}}},
{"mark":{"type":"point","shape":"triangle-left","filled":true,"size":30,"color":"#222","opacity":1},"encoding":{"x":{"datum":1.096,"type":"quantitative"},"y":{"datum":20.9,"type":"quantitative"}}},
{"mark":{"type":"point","shape":"triangle-right","filled":true,"size":30,"color":"#222","opacity":1},"encoding":{"x":{"datum":1.833,"type":"quantitative"},"y":{"datum":20.9,"type":"quantitative"}}},
{"mark":{"type":"rule","color":"#222","strokeWidth":1,"strokeDash":[3,2.5]},"encoding":{"x":{"datum":2.026,"type":"quantitative"},"x2":{"datum":2.673},"y":{"datum":21.2,"type":"quantitative"}}},
{"mark":{"type":"point","shape":"triangle-left","filled":true,"size":30,"color":"#222","opacity":1},"encoding":{"x":{"datum":2.026,"type":"quantitative"},"y":{"datum":21.2,"type":"quantitative"}}},
{"mark":{"type":"point","shape":"triangle-right","filled":true,"size":30,"color":"#222","opacity":1},"encoding":{"x":{"datum":2.673,"type":"quantitative"},"y":{"datum":21.2,"type":"quantitative"}}},
{"mark":{"type":"rule","color":"#222","strokeWidth":1,"strokeDash":[3,2.5]},"encoding":{"x":{"datum":2.923,"type":"quantitative"},"x2":{"datum":3.772},"y":{"datum":20.3,"type":"quantitative"}}},
{"mark":{"type":"point","shape":"triangle-left","filled":true,"size":30,"color":"#222","opacity":1},"encoding":{"x":{"datum":2.923,"type":"quantitative"},"y":{"datum":20.3,"type":"quantitative"}}},
{"mark":{"type":"point","shape":"triangle-right","filled":true,"size":30,"color":"#222","opacity":1},"encoding":{"x":{"datum":3.772,"type":"quantitative"},"y":{"datum":20.3,"type":"quantitative"}}}
]}
]
},
{
"width":412,"height":307,
"resolve":{"scale":{"x":"independent","xOffset":"independent"},"axis":{"y":"independent","x":"independent"}},
"layer":[
{"data":{"name":"d"},
"resolve":{"scale":{"xOffset":"independent"}},
"encoding":{
"x":{"field":"group","type":"nominal","sort":null,"scale":{"paddingInner":0,"paddingOuter":0},"axis":{"orient":"bottom","offset":-153.5,"labels":false,"ticks":true,"tickSize":5,"tickBand":"extent","domainColor":"#222","tickColor":"#222","title":null,"grid":false}},
"y":{"field":"value","type":"quantitative","stack":null,"scale":{"domain":[-40,40],"nice":false},"axis":{"orient":"left","values":[-40,-30,-20,-10,0,10,20,30,40],"tickSize":7,"tickColor":"#222","domainColor":"#222","labelFontSize":17,"labelColor":"#111","labelPadding":5,"grid":false,"title":"Carbonation rate (%)","titleFontSize":18,"titleFontWeight":"normal","titleColor":"#111","titlePadding":5}}},
"layer":[
{"mark":{"type":"bar","stroke":"#3a2428","strokeWidth":0.8},"encoding":{"xOffset":{"field":"month","type":"nominal","scale":{"domain":["1 month","2 months","3 months","6 months","12 months"],"paddingInner":0,"paddingOuter":1.24,"align":0.7}},"fill":{"field":"month","type":"nominal","scale":{"domain":["1 month","2 months","3 months","6 months","12 months"],"range":["#f5b8c1","#f5b8c1","#f5b8c1","#f5b8c1","#f5b8c1"]},"legend":{"title":null,"orient":"none","direction":"horizontal","legendX":1,"legendY":323,"columns":3,"strokeColor":"#777","fillColor":"#fff","padding":3,"labelFontSize":18,"labelColor":"#111","symbolSize":256,"symbolOffset":12.8,"symbolStrokeColor":"#222","symbolStrokeWidth":0.8,"labelOffset":18.8,"columnPadding":8,"rowPadding":4,"labelExpr":"datum.label==='1 month'?'1month':datum.label","encode":{"symbols":{"update":{"shape":{"signal":"datum.value==='1 month'?'M-2.6,-0.9H2.6V0.9H-2.6Z M-2.6,0H2.6':datum.value==='2 months'?'M-2.6,-0.9H2.6V0.9H-2.6Z M-2.6,-0.9L-1.69,0.9L-0.78,-0.9L0.13,0.9L1.04,-0.9L1.95,0.9L2.6,-0.4 M-2.6,0.9L-1.69,-0.9L-0.78,0.9L0.13,-0.9L1.04,0.9L1.95,-0.9L2.6,0.4':datum.value==='3 months'?'M-2.6,-0.9H2.6V0.9H-2.6Z M-2.6,0H2.6 M-1.56,-0.9V0.9 M-0.52,-0.9V0.9 M0.52,-0.9V0.9 M1.56,-0.9V0.9':datum.value==='6 months'?'M-2.6,-0.9H2.6V0.9H-2.6Z M-2.6,-0.45H2.6 M-2.6,0H2.6 M-2.6,0.45H2.6 M-2.167,-0.9V0.9 M-1.733,-0.9V0.9 M-1.3,-0.9V0.9 M-0.867,-0.9V0.9 M-0.433,-0.9V0.9 M0,-0.9V0.9 M0.433,-0.9V0.9 M0.867,-0.9V0.9 M1.3,-0.9V0.9 M1.733,-0.9V0.9 M2.167,-0.9V0.9':'M-2.6,-0.9H2.6V0.9H-2.6Z'"}}}}}}}},
{"transform":[{"filter":{"field":"month","oneOf":["1 month","3 months"]}}],"mark":{"type":"rule","strokeWidth":12.4,"strokeDash":[0.8,6.2],"color":"#5a2c35"},"encoding":{"xOffset":{"field":"month","type":"nominal","scale":{"domain":["1 month","2 months","3 months","6 months","12 months"],"paddingInner":0,"paddingOuter":1.24,"align":0.7}},"y2":{"datum":0}}},
{"transform":[{"filter":{"field":"month","equal":"6 months"}}],"mark":{"type":"rule","strokeWidth":12.4,"strokeDash":[0.7,2.8],"color":"#5a2c35"},"encoding":{"xOffset":{"field":"month","type":"nominal","scale":{"domain":["1 month","2 months","3 months","6 months","12 months"],"paddingInner":0,"paddingOuter":1.24,"align":0.7}},"y2":{"datum":0}}},
{"transform":[{"filter":{"field":"month","oneOf":["3 months","6 months"]}}],"mark":{"type":"rule","strokeWidth":0.7,"color":"#5a2c35"},"encoding":{"xOffset":{"field":"month","type":"nominal","scale":{"domain":["1 month","2 months","3 months","6 months","12 months"],"paddingInner":0,"paddingOuter":1.24,"align":0.7}},"y2":{"datum":0}}},
{"transform":[{"filter":{"field":"month","equal":"6 months"}}],"mark":{"type":"rule","strokeWidth":0.7,"color":"#5a2c35"},"encoding":{"xOffset":{"field":"month","type":"nominal","scale":{"domain":["1 month","2 months","3 months","6 months","12 months"],"paddingInner":0,"paddingOuter":1.24,"align":0.598}},"y2":{"datum":0}}},
{"transform":[{"filter":{"field":"month","equal":"6 months"}}],"mark":{"type":"rule","strokeWidth":0.7,"color":"#5a2c35"},"encoding":{"xOffset":{"field":"month","type":"nominal","scale":{"domain":["1 month","2 months","3 months","6 months","12 months"],"paddingInner":0,"paddingOuter":1.24,"align":0.802}},"y2":{"datum":0}}},
{"transform":[{"filter":{"field":"month","equal":"2 months"}}],"mark":{"type":"rule","strokeWidth":1.8,"color":"#5a2c35","strokeDash":[1.4,5.6],"strokeDashOffset":0},"encoding":{"xOffset":{"field":"month","type":"nominal","scale":{"domain":["1 month","2 months","3 months","6 months","12 months"],"paddingInner":0,"paddingOuter":1.24,"align":0.7}},"y2":{"datum":0}}},
{"transform":[{"filter":{"field":"month","equal":"2 months"}}],"mark":{"type":"rule","strokeWidth":1.8,"color":"#5a2c35","strokeDash":[1.4,1.6,1.4,2.6],"strokeDashOffset":5},"encoding":{"xOffset":{"field":"month","type":"nominal","scale":{"domain":["1 month","2 months","3 months","6 months","12 months"],"paddingInner":0,"paddingOuter":1.24,"align":0.642}},"y2":{"datum":0}}},
{"transform":[{"filter":{"field":"month","equal":"2 months"}}],"mark":{"type":"rule","strokeWidth":1.8,"color":"#5a2c35","strokeDash":[1.4,1.6,1.4,2.6],"strokeDashOffset":5},"encoding":{"xOffset":{"field":"month","type":"nominal","scale":{"domain":["1 month","2 months","3 months","6 months","12 months"],"paddingInner":0,"paddingOuter":1.24,"align":0.758}},"y2":{"datum":0}}},
{"transform":[{"filter":{"field":"month","equal":"2 months"}}],"mark":{"type":"rule","strokeWidth":1.8,"color":"#5a2c35","strokeDash":[2.4,4.6],"strokeDashOffset":4},"encoding":{"xOffset":{"field":"month","type":"nominal","scale":{"domain":["1 month","2 months","3 months","6 months","12 months"],"paddingInner":0,"paddingOuter":1.24,"align":0.584}},"y2":{"datum":0}}},
{"transform":[{"filter":{"field":"month","equal":"2 months"}}],"mark":{"type":"rule","strokeWidth":1.8,"color":"#5a2c35","strokeDash":[2.4,4.6],"strokeDashOffset":4},"encoding":{"xOffset":{"field":"month","type":"nominal","scale":{"domain":["1 month","2 months","3 months","6 months","12 months"],"paddingInner":0,"paddingOuter":1.24,"align":0.816}},"y2":{"datum":0}}},
{"transform":[{"filter":{"field":"month","equal":"2 months"}}],"mark":{"type":"rule","strokeWidth":1.8,"color":"#5a2c35","strokeDash":[1.4,3.6,1.4,0.6],"strokeDashOffset":6},"encoding":{"xOffset":{"field":"month","type":"nominal","scale":{"domain":["1 month","2 months","3 months","6 months","12 months"],"paddingInner":0,"paddingOuter":1.24,"align":0.526}},"y2":{"datum":0}}},
{"transform":[{"filter":{"field":"month","equal":"2 months"}}],"mark":{"type":"rule","strokeWidth":1.8,"color":"#5a2c35","strokeDash":[1.4,3.6,1.4,0.6],"strokeDashOffset":6},"encoding":{"xOffset":{"field":"month","type":"nominal","scale":{"domain":["1 month","2 months","3 months","6 months","12 months"],"paddingInner":0,"paddingOuter":1.24,"align":0.874}},"y2":{"datum":0}}},
{"transform":[{"filter":{"field":"month","equal":"1 month"}}],"mark":{"type":"text","fontSize":18,"dx":0,"color":"#111"},"encoding":{"text":{"field":"group"},"y":{"datum":12.3,"type":"quantitative"}}}
]},
{"data":{"values":[{}]},
"layer":[
{"mark":{"type":"text","text":"LIMESTONE AGGREGATE (WHITE CEMENT)","fontSize":19,"color":"#111"},"encoding":{"x":{"datum":2.01,"type":"quantitative","scale":{"domain":[0,4],"nice":false,"zero":false},"axis":null},"y":{"datum":47.8,"type":"quantitative","axis":{"orient":"left","values":[-35,-25,-15,-5,5,15,25,35],"labels":false,"ticks":true,"tickSize":4,"tickColor":"#222","domain":false,"grid":false,"title":null}}}},
{"mark":{"type":"text","text":"d)","fontSize":17,"color":"#111"},"encoding":{"x":{"datum":-0.21,"type":"quantitative"},"y":{"datum":52.8,"type":"quantitative"}}},
{"mark":{"type":"text","text":"a/c (w/c) 0.32","fontSize":14,"fontWeight":"bold","color":"#111"},"encoding":{"x":{"datum":1.071,"type":"quantitative"},"y":{"datum":34.9,"type":"quantitative"}}},
{"mark":{"type":"text","text":"a/c (w/c) 0.42","fontSize":14,"fontWeight":"bold","color":"#1a1ae6"},"encoding":{"x":{"datum":3.12,"type":"quantitative"},"y":{"datum":34.3,"type":"quantitative"}}},
{"mark":{"type":"text","text":"No Admx.","fontSize":14,"fontStyle":"italic","color":"#111"},"encoding":{"x":{"datum":0.553,"type":"quantitative"},"y":{"datum":22.1,"type":"quantitative"}}},
{"mark":{"type":"text","text":"Admx.","fontSize":14,"fontStyle":"italic","color":"#111"},"encoding":{"x":{"datum":1.388,"type":"quantitative"},"y":{"datum":21.7,"type":"quantitative"}}},
{"mark":{"type":"text","text":"No Admx.","fontSize":14,"fontStyle":"italic","color":"#1a1ae6"},"encoding":{"x":{"datum":2.521,"type":"quantitative"},"y":{"datum":22.3,"type":"quantitative"}}},
{"mark":{"type":"text","text":"Admx.","fontSize":14,"fontStyle":"italic","color":"#1a1ae6"},"encoding":{"x":{"datum":3.476,"type":"quantitative"},"y":{"datum":21.7,"type":"quantitative"}}},
{"mark":{"type":"rule","color":"#222","strokeWidth":1,"strokeDash":[3,2.5]},"encoding":{"x":{"datum":0.214,"type":"quantitative"},"x2":{"datum":1.735},"y":{"datum":29.4,"type":"quantitative"}}},
{"mark":{"type":"point","shape":"triangle-left","filled":true,"size":30,"color":"#222","opacity":1},"encoding":{"x":{"datum":0.214,"type":"quantitative"},"y":{"datum":29.4,"type":"quantitative"}}},
{"mark":{"type":"point","shape":"triangle-right","filled":true,"size":30,"color":"#222","opacity":1},"encoding":{"x":{"datum":1.735,"type":"quantitative"},"y":{"datum":29.4,"type":"quantitative"}}},
{"mark":{"type":"rule","color":"#222","strokeWidth":1,"strokeDash":[3,2.5]},"encoding":{"x":{"datum":2.097,"type":"quantitative"},"x2":{"datum":3.725},"y":{"datum":29.0,"type":"quantitative"}}},
{"mark":{"type":"point","shape":"triangle-left","filled":true,"size":30,"color":"#222","opacity":1},"encoding":{"x":{"datum":2.097,"type":"quantitative"},"y":{"datum":29.0,"type":"quantitative"}}},
{"mark":{"type":"point","shape":"triangle-right","filled":true,"size":30,"color":"#222","opacity":1},"encoding":{"x":{"datum":3.725,"type":"quantitative"},"y":{"datum":29.0,"type":"quantitative"}}},
{"mark":{"type":"rule","color":"#222","strokeWidth":1,"strokeDash":[3,2.5]},"encoding":{"x":{"datum":0.159,"type":"quantitative"},"x2":{"datum":0.812},"y":{"datum":18.3,"type":"quantitative"}}},
{"mark":{"type":"point","shape":"triangle-left","filled":true,"size":30,"color":"#222","opacity":1},"encoding":{"x":{"datum":0.159,"type":"quantitative"},"y":{"datum":18.3,"type":"quantitative"}}},
{"mark":{"type":"point","shape":"triangle-right","filled":true,"size":30,"color":"#222","opacity":1},"encoding":{"x":{"datum":0.812,"type":"quantitative"},"y":{"datum":18.3,"type":"quantitative"}}},
{"mark":{"type":"rule","color":"#222","strokeWidth":1,"strokeDash":[3,2.5]},"encoding":{"x":{"datum":0.99,"type":"quantitative"},"x2":{"datum":1.676},"y":{"datum":18.4,"type":"quantitative"}}},
{"mark":{"type":"point","shape":"triangle-left","filled":true,"size":30,"color":"#222","opacity":1},"encoding":{"x":{"datum":0.99,"type":"quantitative"},"y":{"datum":18.4,"type":"quantitative"}}},
{"mark":{"type":"point","shape":"triangle-right","filled":true,"size":30,"color":"#222","opacity":1},"encoding":{"x":{"datum":1.676,"type":"quantitative"},"y":{"datum":18.4,"type":"quantitative"}}},
{"mark":{"type":"rule","color":"#222","strokeWidth":1,"strokeDash":[3,2.5]},"encoding":{"x":{"datum":2.133,"type":"quantitative"},"x2":{"datum":2.861},"y":{"datum":18.4,"type":"quantitative"}}},
{"mark":{"type":"point","shape":"triangle-left","filled":true,"size":30,"color":"#222","opacity":1},"encoding":{"x":{"datum":2.133,"type":"quantitative"},"y":{"datum":18.4,"type":"quantitative"}}},
{"mark":{"type":"point","shape":"triangle-right","filled":true,"size":30,"color":"#222","opacity":1},"encoding":{"x":{"datum":2.861,"type":"quantitative"},"y":{"datum":18.4,"type":"quantitative"}}},
{"mark":{"type":"rule","color":"#222","strokeWidth":1,"strokeDash":[3,2.5]},"encoding":{"x":{"datum":3.078,"type":"quantitative"},"x2":{"datum":3.864},"y":{"datum":17.9,"type":"quantitative"}}},
{"mark":{"type":"point","shape":"triangle-left","filled":true,"size":30,"color":"#222","opacity":1},"encoding":{"x":{"datum":3.078,"type":"quantitative"},"y":{"datum":17.9,"type":"quantitative"}}},
{"mark":{"type":"point","shape":"triangle-right","filled":true,"size":30,"color":"#222","opacity":1},"encoding":{"x":{"datum":3.864,"type":"quantitative"},"y":{"datum":17.9,"type":"quantitative"}}}
]}
]
}
]
}
